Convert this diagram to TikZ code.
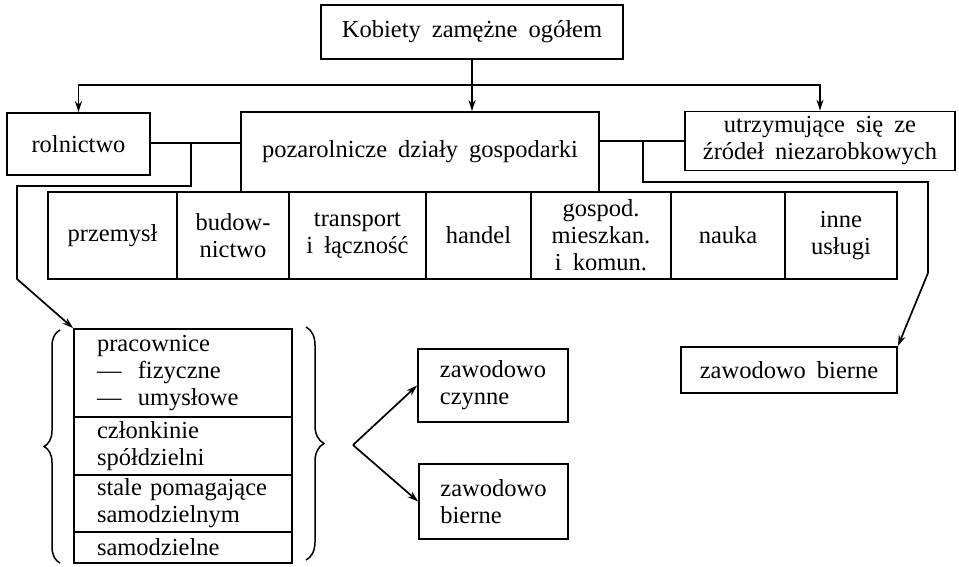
\documentclass[tikz,border=0pt]{standalone}
\usepackage{fontspec}
\setmainfont{Liberation Serif}[WordSpace=1.8]
\usetikzlibrary{arrows.meta,decorations.pathreplacing}
\begin{document}
\begin{tikzpicture}[x=1pt,y=-1pt, line width=1.7pt,
  font=\fontsize{24.5}{27}\selectfont,
  box/.style={draw, inner sep=0pt, align=center, line width=1.8pt},
  row/.style={box, minimum width=218pt, text width=172pt, inner xsep=23pt, align=left},
  arr/.style={-{Stealth[length=11pt,width=7pt]}},
  brc/.style={decorate, line width=1.5pt}]
\useasboundingbox (0,0) rectangle (959,566);
% top
\node[box, minimum width=302pt, minimum height=54pt] (top) at (472,32) {Kobiety zamężne ogółem};
\node[box, minimum width=143pt, minimum height=62pt] (rol) at (78.5,144) {rolnictwo};
\node[box, minimum width=358pt, minimum height=80pt] (poz) at (420,152) {pozarolnicze działy gospodarki};
\node[box, minimum width=270pt, minimum height=59pt] (utr) at (820,141) {utrzymujące się ze\\źródeł niezarobkowych};
% sectors
\node[box, minimum width=129pt, minimum height=87pt] (prz) at (112.5,235.5) {przemysł};
\node[box, minimum width=112pt, minimum height=87pt] (bud) at (233,235.5) {budow-\\nictwo};
\node[box, minimum width=137pt, minimum height=87pt] (tra) at (357.5,235.5) {transport\\i łączność};
\node[box, minimum width=105pt, minimum height=87pt] (han) at (478.5,235.5) {handel};
\node[box, minimum width=140pt, minimum height=87pt] (gos) at (601,235.5) {gospod.\\mieszkan.\\i komun.};
\node[box, minimum width=114pt, minimum height=87pt] (nau) at (728,235.5) {nauka};
\node[box, minimum width=112pt, minimum height=87pt] (inn) at (841,235.5) {inne\\usługi};
% stack
\node[row, minimum height=88pt] (prac) at (183,373) {pracownice\\\mbox{—\ \ fizyczne}\\\mbox{—\ \ umysłowe}};
\node[row, minimum height=58pt] (czl) at (183,446) {członkinie\\spółdzielni};
\node[row, minimum height=57pt] (sta) at (183,503.5) {\mbox{stale pomagające}\\samodzielnym};
\node[row, minimum height=31pt] (sam) at (183,547.5) {samodzielne};
% outcomes
\node[box, minimum width=150pt, minimum height=73pt, align=left] (czy) at (493,385.5) {zawodowo\\czynne};
\node[box, minimum width=149pt, minimum height=75pt, align=left] (bie) at (493.5,501.5) {zawodowo\\bierne};
\node[box, minimum width=216pt, minimum height=46pt] (zb) at (789,370) {zawodowo bierne};
% connectors
\coordinate (hub) at (472,85);
\draw[arr] (top.south) -- (top.south |- poz.north);
\draw[arr] (hub) -| (rol.north);
\draw[arr] (hub) -| (utr.north);
\draw (rol.east |- 0,143) -- (poz.west |- 0,143);
\coordinate (l1) at (191,143);
\coordinate (l2) at (191,186);
\coordinate (l3) at (17,186);
\coordinate (l4) at (17,279);
\draw[arr] (l1) -- (l2) -- (l3) -- (l4) -- (prac.north west);
\draw (poz.east |- utr.west) -- (utr.west);
\coordinate (r1) at (643,141);
\coordinate (r2) at (643,182);
\coordinate (r3) at (928,182);
\coordinate (r4) at (928,273);
\draw[arr] (r1) -- (r2) -- (r3) -- (r4) -- (zb.north east);
% braces
\draw[brc, decoration={brace, amplitude=16pt}] (60,563) -- (60,330);
\draw[brc, decoration={brace, amplitude=18pt}] (306,327) -- (306,560);
\coordinate (split) at (353,445);
\draw[arr] (split) -- (czy.west);
\draw[arr] (split) -- (bie.west);
\end{tikzpicture}
\end{document}
